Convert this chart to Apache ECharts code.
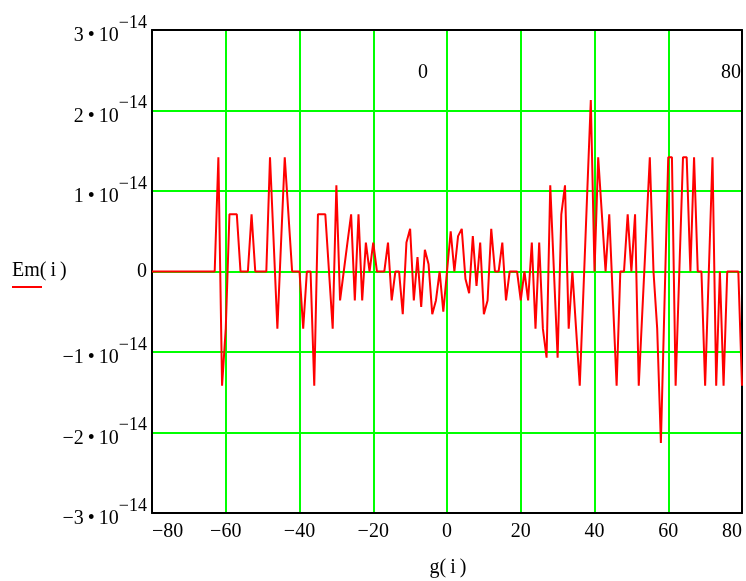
<!DOCTYPE html>
<html>
<head>
<meta charset="utf-8">
<script src="https://cdn.jsdelivr.net/npm/echarts@6/dist/echarts.min.js"></script>
<style>
  html, body { margin: 0; padding: 0; background: #fff; }
  #chart { width: 746px; height: 581px; }
</style>
</head>
<body>
<div id="chart"></div>
<script>
// g(i) positions
const gValues = [
  -80, -79, -78, -77, -76, -75, -74, -73, -72, -71,
  -70, -69, -68, -67, -66, -65, -64, -63, -62, -61,
  -60, -59, -58, -57, -56, -55, -54, -53, -52, -51,
  -50, -49, -48, -47, -46, -45, -44, -43, -42, -41,
  -40, -39, -38, -37, -36, -35, -34, -33, -32, -31,
  -30, -29, -28, -27, -26, -25, -24, -23, -22, -21,
  -20, -19, -18, -17, -16, -15, -14, -13, -12, -11,
  -10, -9, -8, -7, -6, -5, -4, -3, -2, -1,
  0, 1, 2, 3, 4, 5, 6, 7, 8, 9,
  10, 11, 12, 13, 14, 15, 16, 17, 18, 19,
  20, 21, 22, 23, 24, 25, 26, 27, 28, 29,
  30, 31, 32, 33, 34, 35, 36, 37, 38, 39,
  40, 41, 42, 43, 44, 45, 46, 47, 48, 49,
  50, 51, 52, 53, 54, 55, 56, 57, 58, 59,
  60, 61, 62, 63, 64, 65, 66, 67, 68, 69,
  70, 71, 72, 73, 74, 75, 76, 77, 78, 79,
  80
]

// Em(i) in units of 1e-14
const emValues = [
  0, 0, 0, 0, 0, 0, 0, 0, 0, 0,
  0, 0, 0, 0, 0, 0, 0, 0, 1.42, -1.42,
  -0.71, 0.71, 0.71, 0.71, 0, 0, 0, 0.71, 0, 0,
  0, 0, 1.42, 0.36, -0.71, 0.36, 1.42, 0.71, 0, 0,
  0, -0.71, 0, 0, -1.42, 0.71, 0.71, 0.71, 0, -0.71,
  1.07, -0.36, 0, 0.36, 0.71, -0.36, 0.71, -0.36, 0.36, 0,
  0.36, 0, 0, 0, 0.36, -0.36, 0, 0, -0.53, 0.36,
  0.53, -0.36, 0.18, -0.44, 0.27, 0.09, -0.53, -0.36, 0, -0.5,
  0, 0.5, 0, 0.44, 0.53, -0.09, -0.27, 0.44, -0.18, 0.36,
  -0.53, -0.36, 0.53, 0, 0, 0.36, -0.36, 0, 0, 0,
  -0.36, 0, -0.36, 0.36, -0.71, 0.36, -0.71, -1.07, 1.07, 0,
  -1.07, 0.71, 1.07, -0.71, 0, -0.71, -1.42, -0.24, 0.95, 2.13,
  0, 1.42, 0.71, 0, 0.71, -0.36, -1.42, 0, 0, 0.71,
  0, 0.71, -1.42, -0.47, 0.47, 1.42, 0, -0.71, -2.13, -0.36,
  1.42, 1.42, -1.42, 0, 1.42, 1.42, 0, 1.42, 0, 0,
  -1.42, 0, 1.42, -1.42, 0, -1.42, 0, 0, 0, 0,
  -1.42
]

// y tick mantissas (x 10^-14)
const yTicks = [-3, -2, -1, 0, 1, 2, 3]
const yMantissa = ['−3', '−2', '−1', '0', '1', '2', '3']
// marker labels shown above the plot
const markerLabels = ['0', '80']

const serif = 'Liberation Serif'
const chart = echarts.init(document.getElementById('chart'))

// plain black frame for the top and right sides
const frameAxis = {
  axisLine: { show: true, onZero: false, lineStyle: { color: '#000', width: 2 } },
  axisTick: { show: false },
  axisLabel: { show: false },
  splitLine: { show: false }
}

chart.setOption({
  animation: false,
  backgroundColor: '#fff',
  grid: { left: 152, right: 4, top: 30, bottom: 68 },
  xAxis: [
    {
      type: 'value',
      min: -80,
      max: 80,
      interval: 20,
      axisLine: { show: true, onZero: false, lineStyle: { color: '#000', width: 2 } },
      axisTick: { show: false },
      axisLabel: {
        color: '#000',
        fontFamily: serif,
        fontSize: 20,
        margin: 9,
        alignMinLabel: 'left',
        alignMaxLabel: 'right',
        formatter: (v) => String(v).replace('-', '−')
      },
      splitLine: {
        show: true,
        showMinLine: false,
        showMaxLine: false,
        lineStyle: { color: '#00ff00', width: 2 }
      }
    },
    Object.assign({ type: 'value', min: -80, max: 80, interval: 20, position: 'top' }, frameAxis)
  ],
  yAxis: [
    {
      type: 'value',
      min: -3,
      max: 3,
      interval: 1,
      axisLine: { show: true, onZero: false, lineStyle: { color: '#000', width: 2 } },
      axisTick: { show: false },
      axisLabel: {
        color: '#000',
        fontFamily: serif,
        fontSize: 20,
        margin: 5,
        formatter: (v) => {
          const m = yMantissa[yTicks.indexOf(Math.round(v))]
          if (m === '0') return '0'
          return '{b|' + m + '\u2009•\u200910}{s|−14}'
        },
        rich: {
          b: { fontFamily: serif, fontSize: 20, color: '#000', verticalAlign: 'bottom' },
          s: { fontFamily: serif, fontSize: 18, color: '#000', verticalAlign: 'top', padding: [0, 0, 14, 0] }
        }
      },
      splitLine: {
        show: true,
        showMinLine: false,
        showMaxLine: false,
        lineStyle: { color: '#00ff00', width: 2 }
      }
    },
    Object.assign({ type: 'value', min: -3, max: 3, interval: 1, position: 'right' }, frameAxis)
  ],
  series: [
    {
      type: 'line',
      data: gValues.map((g, i) => [g, emValues[i]]),
      showSymbol: false,
      lineStyle: { color: '#ff0000', width: 2 },
      z: 3
    }
  ],
  graphic: [
    {
      type: 'text',
      left: 12,
      top: 261,
      style: { text: 'Em(\u2009i\u2009)', font: '20px "Liberation Serif"', fill: '#000' }
    },
    {
      type: 'line',
      shape: { x1: 12, y1: 287, x2: 42, y2: 287 },
      style: { stroke: '#ff0000', lineWidth: 2 }
    },
    {
      type: 'text',
      x: 448,
      y: 568,
      style: { text: 'g(\u2009i\u2009)', font: '20px "Liberation Serif"', fill: '#000', align: 'center', verticalAlign: 'middle' }
    },
    {
      type: 'text',
      x: 423,
      y: 73,
      style: { text: markerLabels[0], font: '20px "Liberation Serif"', fill: '#000', align: 'center', verticalAlign: 'middle' }
    },
    {
      type: 'text',
      x: 731,
      y: 73,
      style: { text: markerLabels[1], font: '20px "Liberation Serif"', fill: '#000', align: 'center', verticalAlign: 'middle' }
    }
  ]
})
</script>
</body>
</html>
